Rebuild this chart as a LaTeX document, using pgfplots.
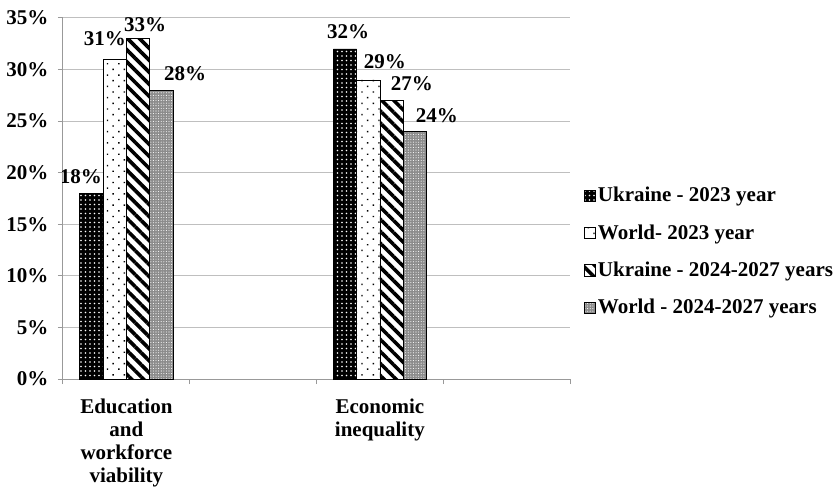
\documentclass[border=0pt]{standalone}
\usepackage{fontspec}
\setmainfont{Liberation Serif}
\usepackage{pgfplots}
\pgfplotsset{compat=1.18}
\usetikzlibrary{patterns.meta}
\tikzset{
  ukrA/.style={fill=black, postaction={pattern={Dots[distance=4.5bp,radius=0.9bp]}, pattern color=white}},
  wldA/.style={fill=white, postaction={pattern={Dots[distance=8bp,radius=1bp,angle=45]}, pattern color=black}},
  ukrB/.style={fill=white, postaction={pattern={Lines[angle=-45,distance=8.5bp,line width=3.6bp]}, pattern color=black}},
  wldB/.style={fill=black!45, postaction={pattern={Dots[distance=2.6bp,radius=0.55bp]}, pattern color=white}},
}
\begin{document}
\begin{tikzpicture}[font=\fontsize{21bp}{23.5bp}\selectfont\bfseries]
\begin{axis}[
  at={(0,0)}, anchor=south west,
  scale only axis, width=507bp, height=361bp,
  ymin=0, ymax=35, xmin=-0.5, xmax=3.5,
  ybar=0pt, bar width=23.3bp,
  axis x line*=bottom, axis y line*=left,
  axis line style={draw=black!40, line width=1bp},
  ytick={0,5,...,35},
  yticklabel={\pgfmathparse{int(round(\tick))}\pgfmathresult\%},
  yticklabel style={font=\fontsize{21bp}{23.5bp}\selectfont\bfseries, xshift=-6bp},
  tick align=outside, major tick length=5bp,
  tick style={draw=black!40, line width=1bp},
  ymajorgrids, grid style={draw=black!25, line width=1bp},
  xtick={-0.5,0.5,1.5,2.5,3.5}, xticklabels={},
  extra x ticks={0,2},
  extra x tick labels={Education\\and\\workforce\\viability, Economic\\inequality},
  extra x tick style={major tick length=0pt, grid=none,
     tick label style={align=center, font=\fontsize{21bp}{23.3bp}\selectfont\bfseries, yshift=-16bp}},
  legend style={at={(1.027,0.537)}, anchor=north west, draw=none, fill=none,
     font=\fontsize{21bp}{23.5bp}\selectfont\bfseries, row sep=17.3bp, inner sep=0pt,
     /tikz/every even column/.append style={column sep=6bp}},
  legend cell align=left,
  legend image code/.code={\draw[#1, line width=0.6bp] (0bp,-6bp) rectangle (11.5bp,5.5bp);},
]
\addplot[draw=black, line width=0.6bp, ukrA] coordinates {(0,18) (2,32)};
\addplot[draw=black, line width=0.6bp, wldA] coordinates {(0,31) (2,29)};
\addplot[draw=black, line width=0.6bp, ukrB] coordinates {(0,33) (2,27)};
\addplot[draw=black, line width=0.6bp, wldB] coordinates {(0,28) (2,24)};
\legend{Ukraine - 2023 year, World- 2023 year, Ukraine - 2024-2027 years, World - 2024-2027 years}
\node at (axis cs:-0.358,19.58) {18\%};
\node at (axis cs:-0.169,32.96) {31\%};
\node at (axis cs:0.147,34.4) {33\%};
\node at (axis cs:0.463,29.57) {28\%};
\node at (axis cs:1.749,33.64) {32\%};
\node at (axis cs:2.040,30.73) {29\%};
\node at (axis cs:2.253,28.60) {27\%};
\node at (axis cs:2.450,25.50) {24\%};
\end{axis}
\pgfresetboundingbox
\path[use as bounding box] (-63bp,-109bp) rectangle (772bp,379bp);
\end{tikzpicture}
\end{document}
